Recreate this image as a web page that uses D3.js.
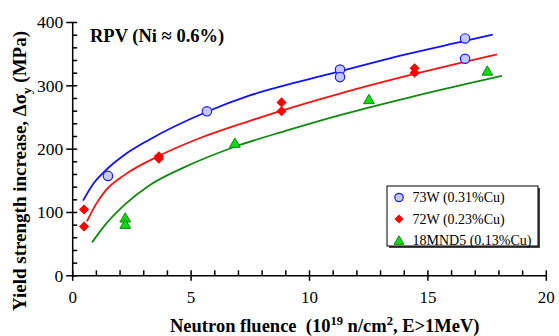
<!DOCTYPE html>
<html>
<head>
<meta charset="utf-8">
<script src="https://cdn.jsdelivr.net/npm/d3@7"></script>
<style>
  body { margin: 0; background: #fff; }
  svg { display: block; font-family: "Liberation Serif", "Times New Roman", serif; }
  svg text { font-family: "Liberation Serif", "Times New Roman", serif; }
</style>
</head>
<body>
<figure id="chart" style="margin:0"></figure>
<script>
// legend labels
const seriesNames = ["73W (0.31%Cu)", "72W (0.23%Cu)", "18MND5 (0.13%Cu)"];

// measured points (fluence 1e19 n/cm2, stress increase MPa)
const fluence73W = [1.51, 5.69, 11.31, 11.31, 16.59, 16.59];
const stress73W = [157, 259, 325, 313, 374, 342];
const fluence72W = [0.50, 0.50, 3.66, 3.66, 8.84, 8.84, 14.46, 14.46];
const stress72W = [104, 77, 188, 184, 273, 259, 327, 320];
const fluence18MND5 = [2.24, 2.24, 6.87, 12.53, 17.53];
const stress18MND5 = [89, 79, 207, 276, 321];

// fitted curves
const fitX73W = [0.46, 0.9, 1.39, 2.2, 3.2, 5.74, 7.5, 9.5, 11.3, 14.0, 16.59, 17.76];
const fitY73W = [118, 145, 165, 190, 213, 259, 284, 305, 322, 348, 370, 380];
const fitX72W = [0.62, 1.0, 1.39, 2.23, 3.63, 5.48, 7.5, 8.84, 11.3, 14.46, 17.94];
const fitY72W = [85, 112, 133, 159, 188, 218, 244, 260, 287, 318, 349];
const fitX18MND5 = [0.84, 1.4, 2.23, 3.3, 4.7, 6.87, 9.0, 11.5, 14.46, 18.15];
const fitY18MND5 = [52, 80, 112, 143, 170, 203, 228, 255, 283, 315];

// axis ticks
const xMajor = [0, 5, 10, 15, 20];
const xMinor = d3.range(0, 21, 1).filter(v => v % 5 !== 0);
const yMajor = [0, 100, 200, 300, 400];
const yMinor = d3.range(0, 401, 20).filter(v => v % 100 !== 0);

const width = 559, height = 336;

const svg = d3.select("figure#chart")
  .append("svg")
  .attr("width", width)
  .attr("height", height);

const x = d3.scaleLinear().domain([0, 20]).range([72.2, 545.8]);
const y = d3.scaleLinear().domain([0, 400]).range([275.3, 22]);

// x axis
const xAxis = svg.append("g")
  .attr("transform", "translate(0," + y(0) + ")")
  .call(d3.axisBottom(x).tickValues(xMajor).tickSize(6).tickSizeOuter(0))
  .attr("font-family", null)
  .attr("font-size", null);
xAxis.selectAll(".tick line").attr("y1", -5).attr("y2", 5.5);
xAxis.selectAll("text")
  .attr("y", 28).attr("dy", 0)
  .style("font-size", "17px")
  .attr("fill", "#000");

svg.append("g")
  .attr("transform", "translate(0," + y(0) + ")")
  .call(d3.axisBottom(x).tickValues(xMinor).tickSize(-5).tickSizeOuter(0).tickFormat(""))
  .call(g => g.select(".domain").remove());

// y axis
const yAxis = svg.append("g")
  .attr("transform", "translate(" + x(0) + ",0)")
  .call(d3.axisLeft(y).tickValues(yMajor).tickSize(6).tickPadding(3).tickSizeOuter(0))
  .attr("font-family", null)
  .attr("font-size", null);
yAxis.selectAll(".tick line").attr("x1", 5).attr("x2", -6);
yAxis.selectAll("text")
  .attr("dy", "0.34em")
  .style("font-size", "17.5px")
  .attr("fill", "#000");

svg.append("g")
  .attr("transform", "translate(" + x(0) + ",0)")
  .call(d3.axisLeft(y).tickValues(yMinor).tickSize(-5).tickSizeOuter(0).tickFormat(""))
  .call(g => g.select(".domain").remove());

svg.selectAll(".domain, .tick line")
  .attr("stroke", "#000")
  .attr("stroke-width", 1.5);

// fitted curves
const line = d3.line()
  .x(d => x(d[0]))
  .y(d => y(d[1]))
  .curve(d3.curveMonotoneX);

const fits = [
  { xs: fitX73W, ys: fitY73W, color: "#1010ff" },
  { xs: fitX72W, ys: fitY72W, color: "#ff1010" },
  { xs: fitX18MND5, ys: fitY18MND5, color: "#118811" }
];

fits.forEach(f => {
  svg.append("path")
    .datum(d3.zip(f.xs, f.ys))
    .attr("d", line)
    .attr("fill", "none")
    .attr("stroke", f.color)
    .attr("stroke-width", 1.8);
});

// markers
const diamondSym = d3.symbol().type(d3.symbolSquare);
const triSym = d3.symbol().type(d3.symbolTriangle);

function drawCircle(g, cx, cy, r) {
  g.append("circle")
    .attr("cx", cx).attr("cy", cy).attr("r", r)
    .attr("fill", "#c4c8f6")
    .attr("stroke", "#1a1aff")
    .attr("stroke-width", 1.2);
}
function drawDiamond(g, cx, cy, size) {
  g.append("path")
    .attr("d", diamondSym.size(size)())
    .attr("transform", "translate(" + cx + "," + cy + ") rotate(45)")
    .attr("fill", "#ff0000")
    .attr("stroke", "#ff0000")
    .attr("stroke-width", 1);
}
function drawTriangle(g, cx, cy, size) {
  g.append("path")
    .attr("d", triSym.size(size)())
    .attr("transform", "translate(" + cx + "," + cy + ")")
    .attr("fill", "#10dd10")
    .attr("stroke", "#0a8a0a")
    .attr("stroke-width", 1);
}

const marks = svg.append("g");
d3.zip(fluence18MND5, stress18MND5).forEach(d => drawTriangle(marks, x(d[0]), y(d[1]), 50));
d3.zip(fluence72W, stress72W).forEach(d => drawDiamond(marks, x(d[0]), y(d[1]), 38));
d3.zip(fluence73W, stress73W).forEach(d => drawCircle(marks, x(d[0]), y(d[1]), 4.7));

// title inside plot
svg.append("text")
  .attr("x", 90)
  .attr("y", 41.5)
  .style("font-size", "18.5px")
  .style("font-weight", "bold")
  .text("RPV (Ni \u2248 0.6%)");

// legend
const legend = svg.append("g");
legend.append("rect")
  .attr("x", 389).attr("y", 188)
  .attr("width", 151).attr("height", 60)
  .attr("fill", "#444");
legend.append("rect")
  .attr("x", 387).attr("y", 186)
  .attr("width", 151).attr("height", 60)
  .attr("fill", "#fff")
  .attr("stroke", "#000")
  .attr("stroke-width", 1);

const legendY = [197.5, 219, 240.5];
drawCircle(legend, 399, legendY[0], 4.2);
drawDiamond(legend, 399, legendY[1], 30);
drawTriangle(legend, 399, legendY[2] + 1, 42);

legend.selectAll("text.item")
  .data(seriesNames)
  .enter()
  .append("text")
  .attr("class", "item")
  .attr("x", 412.5)
  .attr("y", (d, i) => legendY[i])
  .attr("dy", "0.35em")
  .style("font-size", "14px")
  .text(d => d);

// x axis title
const xt = svg.append("text")
  .attr("x", 170)
  .attr("y", 332)
  .style("font-size", "18.5px")
  .style("font-weight", "bold")
  .attr("xml:space", "preserve");
xt.append("tspan").text("Neutron fluence  (10");
xt.append("tspan").attr("dy", -7).style("font-size", "12.5px").text("19");
xt.append("tspan").attr("dy", 7).text(" n/cm");
xt.append("tspan").attr("dy", -7).style("font-size", "12.5px").text("2");
xt.append("tspan").attr("dy", 7).text(", E>1MeV)");

// y axis title
const yt = svg.append("text")
  .attr("transform", "translate(26," + 171 + ") rotate(-90)")
  .attr("text-anchor", "middle")
  .style("font-size", "19px")
  .style("font-weight", "bold");
yt.append("tspan").text("Yield strength increase, \u0394\u03c3");
yt.append("tspan").attr("dy", 5).style("font-size", "13px").text("y");
yt.append("tspan").attr("dy", -5).text(" (MPa)");
</script>
</body>
</html>
